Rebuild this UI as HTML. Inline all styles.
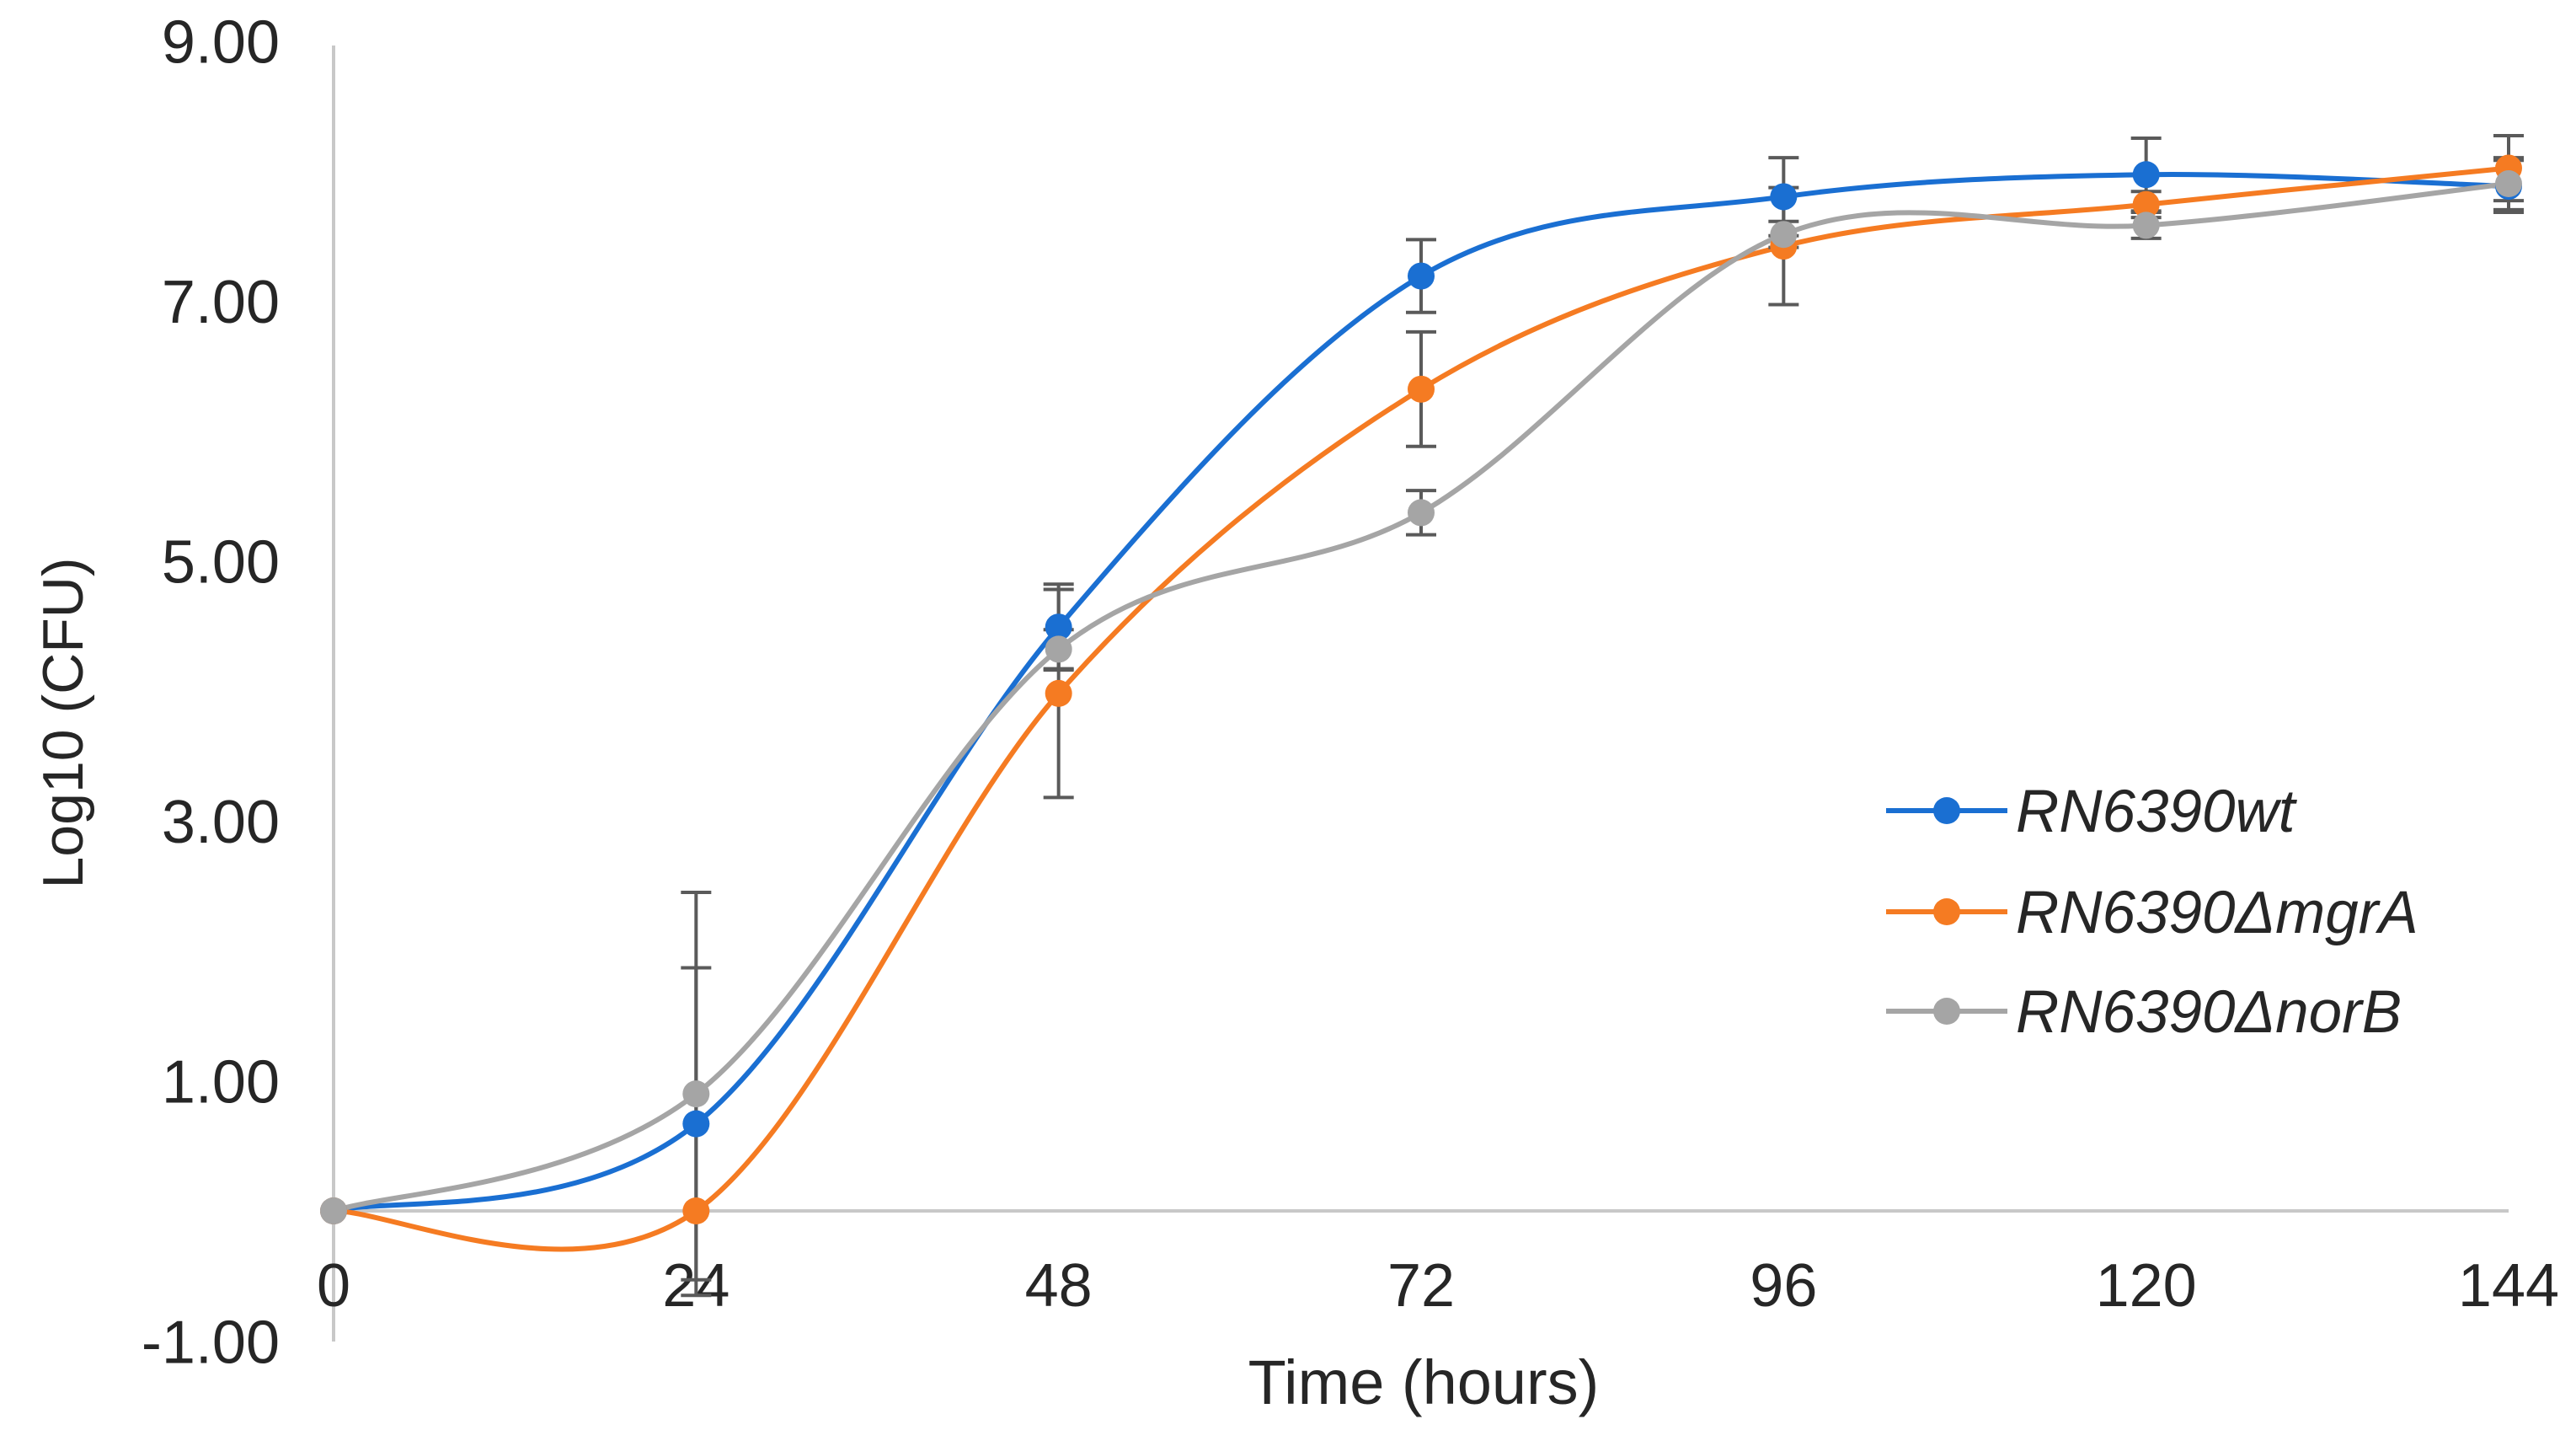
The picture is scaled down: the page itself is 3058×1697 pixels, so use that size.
<!DOCTYPE html>
<html><head><meta charset="utf-8"><style>
html,body{margin:0;padding:0;background:#fff}
svg{display:block}
text{font-family:"Liberation Sans",sans-serif;fill:#262626}
</style></head><body>
<svg id="chart" width="3058" height="1697" viewBox="0 0 3058 1697" xmlns="http://www.w3.org/2000/svg">
<g id="axes"></g><g id="series"></g><g id="legend"></g>
<text x="1690" y="1666" font-size="74" text-anchor="middle">Time (hours)</text>
<text transform="translate(98,858) rotate(-90)" font-size="68" text-anchor="middle">Log10 (CFU)</text>
</svg>
<script>
const hours=[0,24,48,72,96,120,144];
const yTicks=[9,7,5,3,1,-1];
const yTickLabels=["9.00","7.00","5.00","3.00","1.00","-1.00"];
const seriesNames=["RN6390wt","RN6390\u0394mgrA","RN6390\u0394norB"];
const wtValues=[0,0.67,4.49,7.19,7.8,7.97,7.88];
const mgrAValues=[0,0,3.98,6.32,7.42,7.74,8.02];
const norBValues=[0,0.9,4.32,5.37,7.51,7.58,7.9];
const wtErr=[0,1.2,0.33,0.28,0.3,0.28,0.2];
const mgrAErr=[0,0,0.8,0.44,0.45,0.1,0.25];
const norBErr=[0,1.55,0.15,0.17,0.1,0.1,0.2];
const colors=["#1a6fd2","#f57b22","#a5a5a5"];
const NS="http://www.w3.org/2000/svg";
const X0=396,X1=2978,Y0=1437,PU=154.3;
const xs=h=>X0+(h-0)/(144-0)*(X1-X0);
const ys=v=>Y0-v*PU;
function mk(t,a,p){const e=document.createElementNS(NS,t);for(const k in a)e.setAttribute(k,a[k]);p.appendChild(e);return e;}
const ax=document.getElementById('axes');
let l=mk('line',{x1:X0,x2:X0,y1:54,y2:1592,stroke:'#c8c8c8','stroke-width':4},ax);


l=mk('line',{x1:X0,x2:X1,y1:ys(0),y2:ys(0),stroke:'#c8c8c8','stroke-width':4},ax);


yTicks.forEach((v,i)=>{const t=mk('text',{x:332,y:ys(v)+26,'font-size':72,'text-anchor':'end'},ax);t.textContent=yTickLabels[i];

});
hours.forEach(h=>{const t=mk('text',{x:xs(h),y:1550,'font-size':72,'text-anchor':'middle'},ax);t.textContent=String(h);

});
const sg=document.getElementById('series');
const all=[wtValues,mgrAValues,norBValues],errs=[wtErr,mgrAErr,norBErr];
function path(pts){let d=`M${pts[0][0]},${pts[0][1]}`;for(let i=0;i<pts.length-1;i++){const p0=pts[Math.max(0,i-1)],p1=pts[i],p2=pts[i+1],p3=pts[Math.min(pts.length-1,i+2)];
const c1=[p1[0]+(p2[0]-p0[0])/6,p1[1]+(p2[1]-p0[1])/6],c2=[p2[0]-(p3[0]-p1[0])/6,p2[1]-(p3[1]-p1[1])/6];d+=` C${c1[0]},${c1[1]} ${c2[0]},${c2[1]} ${p2[0]},${p2[1]}`;}return d;}
all.forEach((vals,s)=>{const pts=hours.map((h,i)=>[xs(h),ys(vals[i])]);
const p=mk('path',{d:path(pts),fill:'none',stroke:colors[s],'stroke-width':6},sg);

});
all.forEach((vals,s)=>{hours.forEach((h,i)=>{const e=errs[s][i];if(e>0){const x=xs(h),a=ys(vals[i]+e),b=ys(vals[i]-e);
const g=mk('path',{d:`M${x},${a}V${b}M${x-18},${a}H${x+18}M${x-18},${b}H${x+18}`,stroke:'#5a5a5a','stroke-width':4,fill:'none'},sg);

}});});
all.forEach((vals,s)=>{hours.forEach((h,i)=>{const c=mk('circle',{cx:xs(h),cy:ys(vals[i]),r:16,fill:colors[s]},sg);

});});
const lg=document.getElementById('legend');
const ly=[962,1082,1200];
seriesNames.forEach((n,s)=>{const g=mk('g',{},lg);


mk('line',{x1:2239,x2:2383,y1:ly[s],y2:ly[s],stroke:colors[s],'stroke-width':6},g);
mk('circle',{cx:2311,cy:ly[s],r:16,fill:colors[s]},g);
const t=mk('text',{x:2393,y:ly[s]+25,'font-size':71,'font-style':'italic'},g);t.textContent=n;});
</script>
</body></html>
